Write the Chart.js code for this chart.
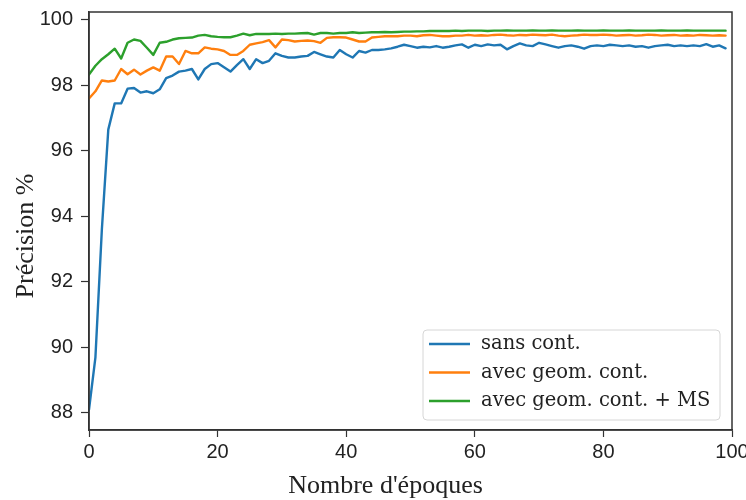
<!DOCTYPE html>
<html>
<head>
<meta charset="utf-8">
<script src="https://cdn.jsdelivr.net/npm/chart.js@4/dist/chart.umd.min.js"></script>
<style>
    body { margin: 0; background: #fff; }
    canvas { display: block; }
</style>
</head>
<body>
<canvas id="chart-precision" width="746" height="500"></canvas>
<script>
var seriesLabels = ["sans cont.", "avec geom. cont.", "avec geom. cont. + MS"];
var seriesColors = ["#1f77b4", "#ff7f0e", "#2ca02c"];
var xTicks = [0, 20, 40, 60, 80, 100];
var yTicks = [88, 90, 92, 94, 96, 98, 100];
var xTitle = "Nombre d'époques";
var yTitle = "Précision %";

var sansCont = [
    88.1, 89.7, 93.6, 96.65, 97.45, 97.45, 97.9, 97.92, 97.78, 97.82,
    97.76, 97.88, 98.22, 98.3, 98.42, 98.45, 98.5, 98.18, 98.5, 98.65,
    98.68, 98.55, 98.42, 98.62, 98.8, 98.5, 98.8, 98.68, 98.75, 98.98,
    98.9, 98.85, 98.85, 98.88, 98.9, 99.02, 98.95, 98.88, 98.85, 99.08,
    98.95, 98.85, 99.05, 99.0, 99.08, 99.08, 99.1, 99.13, 99.18, 99.24,
    99.2, 99.15, 99.18, 99.16, 99.2, 99.15, 99.18, 99.22, 99.25, 99.15,
    99.24, 99.2, 99.25, 99.22, 99.24, 99.1, 99.2, 99.28, 99.22, 99.2,
    99.3, 99.25, 99.2, 99.15, 99.2, 99.22, 99.18, 99.12, 99.2, 99.22,
    99.2, 99.24, 99.22, 99.2, 99.22, 99.18, 99.2, 99.15, 99.2, 99.22,
    99.24, 99.2, 99.22, 99.2, 99.22, 99.2, 99.26, 99.18, 99.22, 99.13
];

var avecGeom = [
    97.6, 97.82, 98.15, 98.12, 98.15, 98.5, 98.34, 98.48, 98.33, 98.45,
    98.55, 98.45, 98.88, 98.88, 98.65, 99.05, 98.98, 98.98, 99.16, 99.12,
    99.1, 99.05, 98.93, 98.93, 99.05, 99.24, 99.28, 99.32, 99.38, 99.16,
    99.4, 99.38, 99.34, 99.36, 99.37, 99.35, 99.3, 99.45, 99.47, 99.47,
    99.46, 99.4, 99.34, 99.34, 99.46, 99.48, 99.5, 99.5, 99.5, 99.52,
    99.52, 99.5, 99.53, 99.54, 99.52, 99.5, 99.5, 99.52, 99.52, 99.54,
    99.52, 99.53, 99.52, 99.54, 99.55, 99.53, 99.52, 99.54, 99.53, 99.55,
    99.54, 99.53, 99.55, 99.52, 99.5, 99.52, 99.53, 99.55, 99.54, 99.54,
    99.55, 99.54, 99.52, 99.53, 99.54, 99.52, 99.53, 99.55, 99.54, 99.52,
    99.53, 99.54, 99.52, 99.53, 99.52, 99.54, 99.53, 99.52, 99.53, 99.52
];

var avecGeomMS = [
    98.33, 98.6, 98.8, 98.95, 99.12, 98.82, 99.3, 99.4, 99.36, 99.15,
    98.93, 99.3, 99.33, 99.4, 99.44, 99.45, 99.46, 99.52, 99.54, 99.5,
    99.48, 99.47, 99.47, 99.52, 99.58, 99.53, 99.57, 99.57, 99.57, 99.58,
    99.57, 99.58, 99.58, 99.59, 99.6, 99.55, 99.6, 99.6, 99.58, 99.6,
    99.6, 99.62, 99.6, 99.61, 99.62, 99.62, 99.63, 99.62, 99.63, 99.64,
    99.64, 99.65, 99.65, 99.66, 99.66, 99.66, 99.66, 99.67, 99.66, 99.67,
    99.67, 99.67, 99.66, 99.67, 99.67, 99.68, 99.67, 99.67, 99.67, 99.68,
    99.67, 99.67, 99.68, 99.67, 99.67, 99.67, 99.68, 99.67, 99.67, 99.67,
    99.68, 99.67, 99.67, 99.67, 99.68, 99.67, 99.67, 99.67, 99.67, 99.68,
    99.67, 99.67, 99.67, 99.68, 99.67, 99.67, 99.67, 99.67, 99.67, 99.67
];

function toPoints(values) {
    return values.map(function (v, i) { return {x: i, y: v}; });
}

// frame around the plot, axis titles and a matplotlib style legend box
var framePlugin = {
    id: 'frame',
    afterDraw: function (chart) {
        var ctx = chart.ctx;
        var a = chart.chartArea;
        ctx.save();
        ctx.strokeStyle = '#333';
        ctx.lineWidth = 1.5;
        ctx.strokeRect(a.left, a.top, a.right - a.left, a.bottom - a.top);

        // axis titles (the reference has them a bit off centre)
        ctx.fillStyle = '#222';
        ctx.font = '26px "Liberation Serif"';
        ctx.textAlign = 'center';
        ctx.textBaseline = 'alphabetic';
        ctx.fillText(xTitle, (a.left + a.right) / 2 - 25, chart.height - 7);
        ctx.save();
        ctx.translate(a.left - 56, (a.top + a.bottom) / 2 + 15);
        ctx.rotate(-Math.PI / 2);
        ctx.fillText(yTitle, 0, 0);
        ctx.restore();

        var w = 297, h = 90;
        var bx = a.right - 12 - w, by = a.bottom - 10 - h;
        ctx.beginPath();
        ctx.roundRect(bx, by, w, h, 4);
        ctx.fillStyle = 'rgba(255,255,255,0.8)';
        ctx.fill();
        ctx.strokeStyle = '#d6d6d6';
        ctx.lineWidth = 1;
        ctx.stroke();

        ctx.font = '19.5px "DejaVu Serif"';
        ctx.textAlign = 'left';
        ctx.textBaseline = 'middle';
        ctx.fillStyle = '#222';
        chart.data.datasets.forEach(function (ds, i) {
            var ry = by + 14 + i * 28.5;
            ctx.beginPath();
            ctx.moveTo(bx + 6, ry);
            ctx.lineTo(bx + 47, ry);
            ctx.strokeStyle = ds.borderColor;
            ctx.lineWidth = 2.5;
            ctx.stroke();
            ctx.fillText(ds.label, bx + 58, ry);
        });
        ctx.restore();
    }
};

var chartprecision = document.getElementById("chart-precision").getContext('2d');

var ChartPrecision = new Chart(chartprecision, {
    type: 'line',
    data: {
        datasets: [
            {label: seriesLabels[0], data: toPoints(sansCont), borderColor: seriesColors[0]},
            {label: seriesLabels[1], data: toPoints(avecGeom), borderColor: seriesColors[1]},
            {label: seriesLabels[2], data: toPoints(avecGeomMS), borderColor: seriesColors[2]}
        ]
    },
    options: {
        responsive: false,
        animation: false,
        layout: {padding: {top: 12, right: 14, left: 0, bottom: 0}},
        elements: {
            point: {radius: 0},
            line: {borderWidth: 2.4, tension: 0, borderJoinStyle: 'round', borderCapStyle: 'round'}
        },
        plugins: {
            legend: {display: false},
            tooltip: {enabled: false}
        },
        scales: {
            x: {
                type: 'linear',
                min: 0,
                max: 100,
                afterFit: function (scale) {
                    scale.height = 70;
                    scale.paddingLeft = 0;
                    scale.paddingRight = 0;
                },
                afterBuildTicks: function (scale) {
                    scale.ticks = xTicks.map(function (v) { return {value: v}; });
                },
                grid: {drawOnChartArea: false, drawTicks: true, tickLength: 7, color: '#333', tickWidth: 1.2},
                border: {color: '#333', width: 1.5},
                ticks: {
                    color: '#222',
                    padding: 3,
                    maxRotation: 0,
                    font: {family: 'Liberation Sans', size: 20}
                }
            },
            y: {
                min: 87.48,
                max: 100.24,
                afterFit: function (scale) {
                    scale.width = 89;
                    scale.paddingTop = 0;
                    scale.paddingBottom = 0;
                },
                afterBuildTicks: function (scale) {
                    scale.ticks = yTicks.map(function (v) { return {value: v}; });
                },
                grid: {drawOnChartArea: false, drawTicks: true, tickLength: 8, color: '#333', tickWidth: 1.2},
                border: {color: '#333', width: 1.5},
                ticks: {
                    color: '#222',
                    padding: 8,
                    font: {family: 'Liberation Sans', size: 20}
                }
            }
        }
    },
    plugins: [framePlugin]
});
</script>
</body>
</html>
